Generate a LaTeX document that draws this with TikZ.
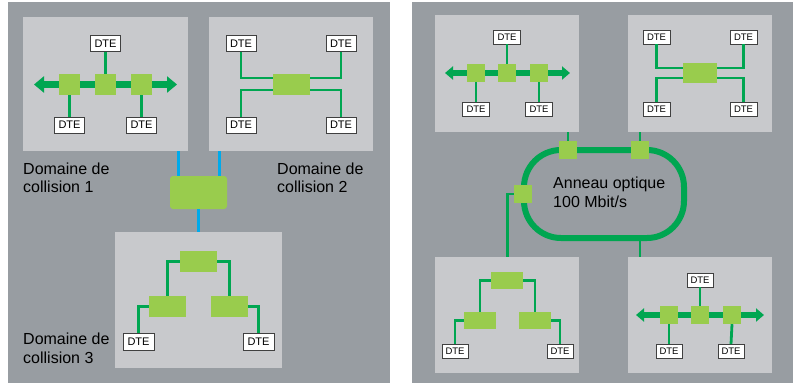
\documentclass[tikz,border=0pt]{standalone}
\usepackage{fontspec}
\setmainfont{Liberation Sans}
\usetikzlibrary{arrows.meta}
\definecolor{bgray}{RGB}{152,157,162}
\definecolor{lgray}{RGB}{200,201,204}
\definecolor{lgreen}{RGB}{153,204,77}
\definecolor{dgreen}{RGB}{0,166,81}
\definecolor{lblue}{RGB}{0,170,235}
\begin{document}
\begin{tikzpicture}[x=1pt,y=-1pt,
  panel/.style={fill=bgray,draw=none},
  area/.style={fill=lgray,draw=none,inner sep=0,anchor=north west},
  dte/.style={draw=black!75,fill=white,line width=0.8pt,inner sep=0,minimum width=30pt,minimum height=16pt,font=\fontsize{11}{11}\selectfont},
  dtes/.style={dte,minimum width=27pt,minimum height=14pt,font=\fontsize{9.5}{9.5}\selectfont},
  sq/.style={fill=lgreen,draw=none,inner sep=0,minimum size=21pt},
  sqs/.style={sq,minimum size=18pt},
  hub/.style={fill=lgreen,draw=none,inner sep=0,minimum width=37pt,minimum height=21pt},
  hubs/.style={hub,minimum width=33pt,minimum height=18pt},
  link/.style={draw=dgreen,line width=2.8pt},
  blink/.style={draw=lblue,line width=3pt},
  bus/.style={draw=dgreen,line width=7pt,{Triangle[length=10pt,width=16pt]}-{Triangle[length=10pt,width=16pt]}},
  buss/.style={draw=dgreen,line width=6pt,{Triangle[length=8pt,width=13pt]}-{Triangle[length=8pt,width=13pt]}},
  lbl/.style={anchor=north west,inner sep=0,align=left,font=\fontsize{16}{18.5}\selectfont}
]
\useasboundingbox (0,0) rectangle (797,383);
\fill[bgray] (8,2) rectangle (390,383);
\fill[bgray] (412,2) rectangle (793,383);

% ---------------- left panel ----------------
\node[area,minimum width=165pt,minimum height=134pt] (b1) at (23,17) {};
\node[area,minimum width=164pt,minimum height=134pt] (b2) at (209,17) {};
\node[area,minimum width=167pt,minimum height=136pt] (b3) at (115,232) {};

% box 1: bus
\coordinate (a1L) at (34,84.5);
\coordinate (a1R) at (177,84.5);
\draw[bus] (a1L) -- (a1R);
\node[sq] (s11) at (69.5,84.5) {};
\node[sq] (s12) at (105.5,84.5) {};
\node[sq] (s13) at (141.5,84.5) {};
\node[dte] (d11) at (105.5,43.5) {DTE};
\node[dte] (d12) at (69.5,125) {DTE};
\node[dte] (d13) at (141.5,125) {DTE};
\draw[link] (d11.south) -- (s12.north);
\draw[link] (s11.south) -- (d12.north);
\draw[link] (s13.south) -- (d13.north);

% box 2: star
\node[hub] (h2) at (291.5,84.5) {};
\node[dte] (d21) at (241,43.5) {DTE};
\node[dte] (d22) at (341,43.5) {DTE};
\node[dte] (d23) at (241,125) {DTE};
\node[dte] (d24) at (341,125) {DTE};
\draw[link] (d21.south) |- ([yshift=6.5pt]h2.west);
\draw[link] (d22.south) |- ([yshift=6.5pt]h2.east);
\draw[link] (d23.north) |- ([yshift=-5.5pt]h2.west);
\draw[link] (d24.north) |- ([yshift=-5.5pt]h2.east);

% central switch
\node[fill=lgreen,draw=none,rounded corners=3pt,inner sep=0,minimum width=57pt,minimum height=33pt] (sw) at (198.5,192.5) {};
\draw[blink] ([xshift=-20.5pt]sw.north) -- ([xshift=-20.5pt]sw.north |- b1.south);
\draw[blink] ([xshift=20.5pt]sw.north) -- ([xshift=20.5pt]sw.north |- b2.south);
\draw[blink] (sw.south) -- (sw.south |- b3.north);

% box 3: tree
\node[hub] (t0) at (198.5,261.5) {};
\node[hub] (t1) at (167.5,306.5) {};
\node[hub] (t2) at (229.5,306.5) {};
\node[dte,minimum width=31pt,minimum height=17pt] (d31) at (138.5,341.5) {DTE};
\node[dte,minimum width=31pt,minimum height=17pt] (d32) at (258.5,341.5) {DTE};
\draw[link] (t0.west) -| (t1.north);
\draw[link] (t0.east) -| (t2.north);
\draw[link] (t1.west) -| (d31.north);
\draw[link] (t2.east) -| (d32.north);

\node[lbl] (l1) at (23,162.5) {Domaine de\\collision 1};
\node[lbl] (l2) at (277,162.5) {Domaine de\\collision 2};
\node[lbl] (l3) at (23,333) {Domaine de\\collision 3};

% ---------------- right panel ----------------
\node[area,minimum width=144pt,minimum height=117pt] (bA) at (435,15) {};
\node[area,minimum width=144pt,minimum height=117pt] (bB) at (628,15) {};
\node[area,minimum width=144pt,minimum height=116pt] (bC) at (435,257) {};
\node[area,minimum width=144pt,minimum height=116pt] (bD) at (628,257) {};

% ring
\node[draw=dgreen,line width=6pt,rounded corners=37pt,minimum width=160pt,minimum height=88pt,inner sep=0] (ring) at (604,194) {};
\node[lbl] (rt) at (553,177) {Anneau optique\\100 Mbit/s};
\node[sqs] (rA) at (568,150) {};
\node[sqs] (rB) at (640,150) {};
\node[sqs] (rL) at (523,194) {};
\draw[link] (rA.north) -- (rA.north |- bA.south);
\draw[link] (rB.north) -- (rB.north |- bB.south);
\draw[link] (rL.west) -| (bC.north);
\draw[link] ([xshift=36pt]ring.south) -- ([xshift=36pt]ring.south |- bD.north);

% box A: bus
\coordinate (aAL) at (445,73);
\coordinate (aAR) at (570,73);
\draw[buss] (aAL) -- (aAR);
\node[sqs] (sA1) at (476,73) {};
\node[sqs] (sA2) at (507,73) {};
\node[sqs] (sA3) at (539,73) {};
\node[dtes] (dA1) at (507,37) {DTE};
\node[dtes] (dA2) at (476,109) {DTE};
\node[dtes] (dA3) at (539,109) {DTE};
\draw[link] (dA1.south) -- (sA2.north);
\draw[link] (sA1.south) -- (dA2.north);
\draw[link] (sA3.south) -- (dA3.north);

% box B: star
\node[hubs,minimum width=34pt,minimum height=20pt] (hB) at (700,73) {};
\node[dtes] (dB1) at (656.5,37) {DTE};
\node[dtes] (dB2) at (743.5,37) {DTE};
\node[dtes] (dB3) at (656.5,109) {DTE};
\node[dtes] (dB4) at (743.5,109) {DTE};
\draw[link] (dB1.south) |- ([yshift=5pt]hB.west);
\draw[link] (dB2.south) |- ([yshift=5pt]hB.east);
\draw[link] (dB3.north) |- ([yshift=-5pt]hB.west);
\draw[link] (dB4.north) |- ([yshift=-5pt]hB.east);

% box C: tree
\node[hubs,minimum width=32pt,minimum height=17pt] (tC0) at (507,280.5) {};
\node[hubs,minimum width=32pt,minimum height=17pt] (tC1) at (480,320.5) {};
\node[hubs,minimum width=32pt,minimum height=17pt] (tC2) at (535,320.5) {};
\node[dtes,minimum width=26pt] (dC1) at (455,351) {DTE};
\node[dtes,minimum width=26pt] (dC2) at (560,351) {DTE};
\draw[link] (tC0.west) -| (tC1.north);
\draw[link] (tC0.east) -| (tC2.north);
\draw[link] (tC1.west) -| (dC1.north);
\draw[link] (tC2.east) -| (dC2.north);

% box D: bus
\coordinate (aDL) at (636,315);
\coordinate (aDR) at (764,315);
\draw[buss] (aDL) -- (aDR);
\node[sqs] (sD1) at (669,315) {};
\node[sqs] (sD2) at (700,315) {};
\node[sqs] (sD3) at (732,315) {};
\node[dtes,minimum width=26pt] (dD1) at (700,280) {DTE};
\node[dtes,minimum width=26pt] (dD2) at (669,351.5) {DTE};
\node[dtes,minimum width=26pt] (dD3) at (731,351.5) {DTE};
\draw[link] (dD1.south) -- (sD2.north);
\draw[link] (sD1.south) -- (dD2.north);
\draw[link] (sD3.south) -- (dD3.north);
\end{tikzpicture}
\end{document}
